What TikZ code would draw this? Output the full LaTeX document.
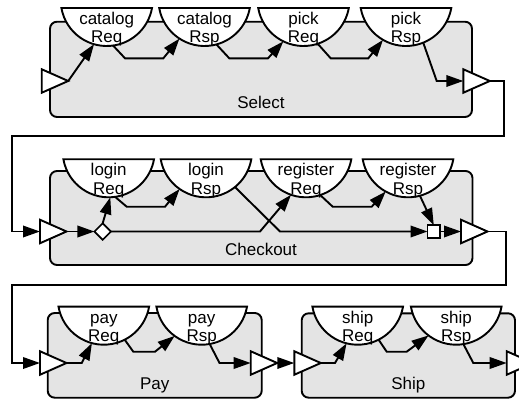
\documentclass[tikz,border=0pt]{standalone}
\usepackage{fontspec}
\setmainfont{Liberation Sans}
\usetikzlibrary{calc,positioning,arrows.meta,shapes.geometric}
\definecolor{stagegray}{RGB}{228,228,228}
\tikzset{
  stagebox/.style={draw,fill=stagegray,line width=1.9pt,rounded corners=7pt},
  stagelbl/.style={font=\fontsize{17}{18.5}\selectfont,anchor=base,inner sep=0pt},
  portcirc/.style={circle,inner sep=0pt,outer sep=0pt,minimum size=92pt},
  portline/.style={draw,fill=white,line width=1.9pt},
  porttext/.style={font=\fontsize{17}{18.5}\selectfont,align=center,inner sep=0pt},
  gate/.style={isosceles triangle,isosceles triangle stretches,draw,fill=white,
    line width=1.9pt,inner sep=0pt,outer sep=0pt,
    minimum width=23.5pt,minimum height=26.5pt,anchor=west},
  joint/.style={draw,fill=white,line width=1.7pt,inner sep=0pt,outer sep=0pt},
  wire/.style={line width=1.9pt},
  flow/.style={wire,-{Triangle[length=17pt,width=11.5pt]}},
}
% message port: name, x, y (down), two text lines
\newcommand{\msgport}[5]{%
  \node[portcirc] (#1) at (#2,-#3) {};
  \draw[portline] (#1.190) arc[start angle=190,end angle=350,radius=46] -- cycle;
  \node[porttext] (#1T) at ($(#1)+(0,-30)$) {\strut#4\\\strut#5};}

\begin{document}
\begin{tikzpicture}[x=1pt,y=1pt]
  \useasboundingbox (0,0) rectangle (519,-399);
  \clip (0,0) rectangle (519,-399);
  % stages
  \draw[stagebox] (50,-21.7) rectangle (472,-117);
  \draw[stagebox] (50,-171) rectangle (472.5,-265);
  \draw[stagebox] (47.7,-313) rectangle (261.7,-397.7);
  \draw[stagebox] (301.7,-313.3) rectangle (515,-397.7);
  \node[stagelbl] (selLbl) at (261,-108.3) {Select};
  \node[stagelbl] (chkLbl) at (261,-255) {Checkout};
  \node[stagelbl] (payLbl) at (154.7,-389.3) {Pay};
  \node[stagelbl] (shipLbl) at (408.3,-389.3) {Ship};
  % ports
  \msgport{catReq}{106.7}{0}{catalog}{Req}
  \msgport{catRsp}{204.5}{0}{catalog}{Rsp}
  \msgport{pickReq}{303.5}{0}{pick}{Req}
  \msgport{pickRsp}{406}{0}{pick}{Rsp}
  \msgport{lgReq}{108.7}{151.3}{login}{Req}
  \msgport{lgRsp}{206}{151.3}{login}{Rsp}
  \msgport{rgReq}{306}{151.3}{register}{Req}
  \msgport{rgRsp}{408}{151.3}{register}{Rsp}
  \msgport{pyReq}{103.8}{298.7}{pay}{Req}
  \msgport{pyRsp}{201.7}{298.7}{pay}{Rsp}
  \msgport{shReq}{357.7}{298.7}{ship}{Req}
  \msgport{shRsp}{456.2}{298.7}{ship}{Rsp}
  % gates
  \node[gate] (selIn) at (41.7,-81) {};
  \node[gate] (selOut) at (463.3,-81) {};
  \node[gate] (chkIn) at (40,-231.5) {};
  \node[gate] (chkOut) at (461,-231.5) {};
  \node[gate] (payIn) at (40,-363) {};
  \node[gate] (payOut) at (250.7,-363) {};
  \node[gate] (shipIn) at (294.3,-363) {};
  \node[gate] (shipOut) at (506.7,-363) {};
  \node[joint,diamond,minimum size=16.5pt] (split) at (102.7,-231.5) {};
  \node[joint,rectangle,minimum size=12.5pt] (join) at (433.8,-231.5) {};
  % Select
  \draw[flow] (selIn.apex) -- (catReq.254);
  \draw[flow] (catReq.278) -- (125,-58.3) -- (163.3,-58.3) -- (catRsp.237);
  \draw[flow] (catRsp.285) -- (229.3,-58.3) -- (268,-58.3) -- (pickReq.244);
  \draw[flow] (pickReq.288) -- (330.7,-58.3) -- (368.3,-58.3) -- (pickRsp.240);
  \draw[flow] (pickRsp.292) -- (436.7,-81) -- (selOut.west);
  \draw[flow] (selOut.apex) -| (504,-136) -- (12.3,-136) |- (chkIn.west);
  % Checkout
  \draw[flow] (chkIn.apex) -- (split.west);
  \draw[flow] (split.north) -- (lgReq.272);
  \draw[flow] (lgReq.278) -- (126.7,-206.7) -- (165,-206.7) -- (lgRsp.235);
  \draw[flow] (split.east) -- (260,-231.5) -- (rgReq.251);
  \draw[flow] (lgRsp.309) -- (280,-231.5) -- (join.west);
  \draw[flow] (rgReq.288) -- (332.7,-206.7) -- (371.7,-206.7) -- (rgRsp.241);
  \draw[flow] (rgRsp.285) -- (join.north);
  \draw[flow] (join.east) -- (chkOut.west);
  \draw[flow] (chkOut.apex) -| (506,-285) -- (12.3,-285) |- (payIn.west);
  % Pay
  \draw[flow] (payIn.apex) -- (81.7,-363) -- (pyReq.255);
  \draw[flow] (pyReq.297) -- (133.3,-351.7) -- (155,-351.7) -- (pyRsp.234);
  \draw[flow] (pyRsp.280) -- (219.5,-363) -- (payOut.west);
  \draw[flow] (payOut.apex) -- (shipIn.west);
  % Ship
  \draw[flow] (shipIn.apex) -- (335,-363) -- (shReq.256);
  \draw[flow] (shReq.297) -- (386.7,-351.7) -- (406.7,-351.7) -- (shRsp.233);
  \draw[flow] (shRsp.279) -- (473.3,-363) -- (shipOut.west);
\end{tikzpicture}
\end{document}
